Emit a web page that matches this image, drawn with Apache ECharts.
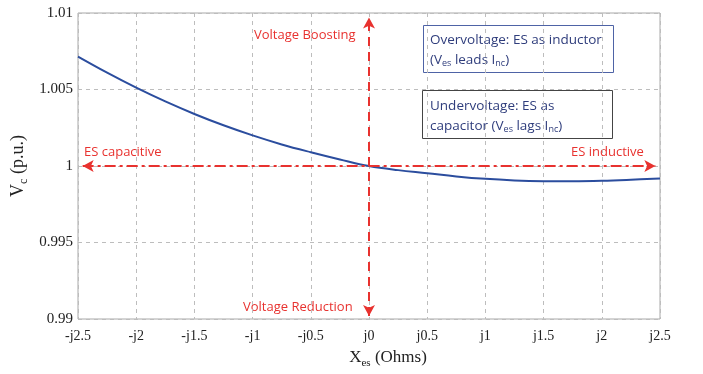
<!DOCTYPE html>
<html>
<head>
<meta charset="utf-8">
<script src="https://cdn.jsdelivr.net/npm/echarts@6/dist/echarts.min.js"></script>
<style>
html,body{margin:0;padding:0;background:#fff;}
#main{width:703px;height:374px;}
</style>
</head>
<body>
<div id="main"></div>
<script>
// 数据：X_es (j Ohms) 与 Vc (p.u.)
var xValues = [-2.5, -2.25, -2, -1.75, -1.5, -1.25, -1, -0.75, -0.5, -0.25, 0,
               0.25, 0.5, 0.75, 1, 1.25, 1.5, 1.75, 2, 2.25, 2.5];
var vcValues = [1.00715, 1.00610, 1.00512, 1.00422, 1.00340, 1.00266, 1.00200, 1.00141, 1.00090, 1.00043, 1.00000,
                0.99973, 0.99953, 0.99932, 0.99916, 0.99906, 0.99901, 0.99900, 0.99903, 0.99910, 0.99919];
var xTicks = [-2.5, -2, -1.5, -1, -0.5, 0, 0.5, 1, 1.5, 2, 2.5];
var yTicks = [0.99, 0.995, 1, 1.005, 1.01];

var red = '#e8322f';
var serif = '"Liberation Serif", "DejaVu Serif", serif';
var sans = '"Open Sans", "Noto Sans", sans-serif';

var chart = echarts.init(document.getElementById('main'));

function xLabel(v) {
    var r = Math.round(v * 10) / 10;
    if (r < 0) return '-j' + (-r);
    return 'j' + r;
}

var option = {
    animation: false,
    grid: {
        left: 78, right: 43, top: 13, bottom: 51,
        show: true, borderColor: '#a8a8a8', borderWidth: 1
    },
    xAxis: {
        type: 'value',
        min: -2.5, max: 2.5, interval: 0.5,
        axisLine: {show: false},
        axisTick: {show: false},
        splitLine: {show: true, lineStyle: {color: '#bdbdbd', type: [4, 4], width: 1}},
        axisLabel: {
            color: '#222', fontFamily: serif, fontSize: 14, margin: 10,
            formatter: xLabel
        },
        name: '{a|X}{s|es}{a| (Ohms)}',
        nameLocation: 'middle',
        nameGap: 27,
        nameTextStyle: {
            padding: [0, 0, 0, 38],
            rich: {
                a: {fontFamily: serif, fontSize: 17, color: '#222'},
                s: {fontFamily: serif, fontSize: 11, color: '#222', padding: [12, 0, 0, 0]}
            }
        }
    },
    yAxis: {
        type: 'value',
        min: 0.99, max: 1.01, interval: 0.005,
        axisLine: {show: false},
        axisTick: {show: false},
        splitLine: {show: true, lineStyle: {color: '#bdbdbd', type: [4, 4], width: 1}},
        axisLabel: {
            color: '#222', fontFamily: serif, fontSize: 15, margin: 5,
            formatter: function (v) { return String(Math.round(v * 1000) / 1000); }
        },
        name: '{a|V}{s|c}{a| (p.u.)}',
        nameLocation: 'middle',
        nameMoveOverlap: false,
        nameGap: 48,
        nameRotate: 90,
        nameTextStyle: {
            rich: {
                a: {fontFamily: serif, fontSize: 18, color: '#222'},
                s: {fontFamily: serif, fontSize: 12, color: '#222', padding: [12, 0, 0, 0]}
            }
        }
    },
    series: [{
        type: 'line',
        data: xValues.map(function (x, i) { return [x, vcValues[i]]; }),
        smooth: 0.4,
        showSymbol: false,
        lineStyle: {color: '#2b4d9e', width: 2},
        markLine: {
            silent: true,
            symbol: ['arrow', 'arrow'],
            symbolSize: [9, 11],
            label: {show: false},
            lineStyle: {color: red, width: 2},
            data: [
                [{coord: [-2.46, 1], lineStyle: {type: [11, 4, 3, 4]}}, {coord: [2.46, 1]}],
                [{coord: [0, 0.9902], lineStyle: {type: [9, 6]}}, {coord: [0, 1.0097]}]
            ]
        }
    }],
    graphic: [
        {type: 'text', left: 254, top: 29, style: {text: 'Voltage Boosting', fill: red, font: '13px ' + sans}},
        {type: 'text', left: 243, top: 301, style: {text: 'Voltage Reduction', fill: red, font: '13px ' + sans}},
        {type: 'text', left: 84, top: 146, style: {text: 'ES capacitive', fill: red, font: '13px ' + sans}},
        {type: 'text', left: 571, top: 146, style: {text: 'ES inductive', fill: red, font: '13px ' + sans}},
        {type: 'rect', shape: {x: 423.5, y: 25.5, width: 190, height: 47},
            style: {fill: '#fff', stroke: '#4e63a6', lineWidth: 1}},
        {type: 'text', left: 430, top: 30, style: {
            text: 'Overvoltage: ES as inductor\n{t|(V}{s|es}{t| leads I}{s|nc}{t|)}',
            fill: '#2f3d7c', font: '13.5px ' + sans, lineHeight: 20,
            rich: {
                t: {fontSize: 13.5, fontFamily: sans, fill: '#2f3d7c'},
                s: {fontSize: 9, fontFamily: sans, fill: '#2f3d7c', padding: [7, 0, 0, 0]}
            }
        }},
        {type: 'rect', shape: {x: 422.5, y: 90.5, width: 190, height: 48},
            style: {fill: '#fff', stroke: '#444', lineWidth: 1}},
        {type: 'text', left: 430, top: 96, style: {
            text: 'Undervoltage: ES as\ncapacitor (V{s|es}{t| lags I}{s|nc}{t|)}',
            fill: '#2f3d7c', font: '13.5px ' + sans, lineHeight: 20,
            rich: {
                t: {fontSize: 13.5, fontFamily: sans, fill: '#2f3d7c'},
                s: {fontSize: 9, fontFamily: sans, fill: '#2f3d7c', padding: [7, 0, 0, 0]}
            }
        }}
    ]
};
chart.setOption(option);
</script>
</body>
</html>
